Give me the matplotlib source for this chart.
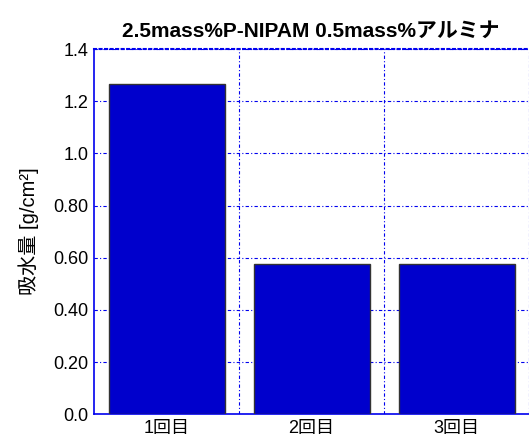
import matplotlib
matplotlib.use("Agg")
import matplotlib.pyplot as plt

plt.rcParams['font.family'] = ['Liberation Sans', 'Noto Sans CJK JP', 'DejaVu Sans']

categories = ['1回目', '2回目', '3回目']
absorption = [1.265, 0.575, 0.575]
yticks = [0.0, 0.2, 0.4, 0.6, 0.8, 1.0, 1.2, 1.4]
ytick_labels = ['0.0', '0.20', '0.40', '0.60', '0.80', '1.0', '1.2', '1.4']

fig = plt.figure(figsize=(5.29, 4.42), dpi=100)
ax = fig.add_axes([94 / 529, 27.7 / 442, 435 / 529, 365.3 / 442])

x = range(len(categories))
ax.bar(x, absorption, width=0.8, color='#0000cc', edgecolor='#333333', linewidth=1, zorder=3)

ax.set_xlim(-0.5, 2.5)
ax.set_ylim(0, 1.4)
ax.set_yticks(yticks)
ax.set_yticklabels(ytick_labels)
ax.set_xticks(list(x))
ax.set_xticklabels(categories)
ax.set_xticks([0.5, 1.5, 2.5], minor=True)

ax.tick_params(axis='both', which='both', length=0, labelsize=13, pad=4)
ax.yaxis.grid(True, color='#0000ee', linestyle=(0, (3, 2, 1, 2)), linewidth=0.8, zorder=0)
ax.xaxis.grid(True, which='minor', color='#0000ee', linestyle=(0, (3, 2, 1, 2)), linewidth=0.8, zorder=0)
ax.xaxis.grid(False, which='major')

for side in ['left', 'bottom']:
    ax.spines[side].set_color('#0000ee')
    ax.spines[side].set_linewidth(1.2)
ax.spines['right'].set_visible(False)
ax.spines['top'].set_color('#0000ee')
ax.spines['top'].set_linestyle(':')
ax.spines['top'].set_linewidth(1.5)

ax.set_ylabel('吸水量 [g/cm²]', fontsize=14.5, labelpad=10)
ax.set_title('2.5mass%P-NIPAM 0.5mass%アルミナ', fontsize=15, fontweight='bold', pad=9,
             x=(311 - 94) / 435)

fig.savefig('out.png', dpi=100)
